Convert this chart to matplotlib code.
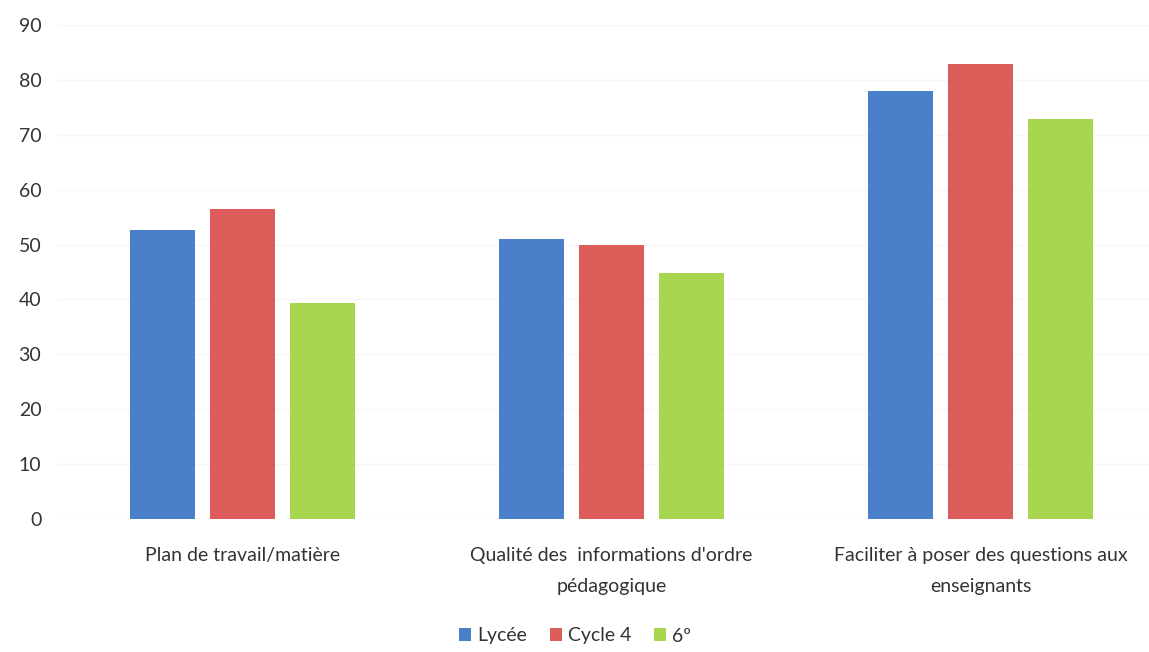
import numpy as np
import matplotlib.pyplot as plt

# donnees
categories = ["Plan de travail/matière",
              "Qualité des  informations d'ordre\npédagogique",
              "Faciliter à poser des questions aux\nenseignants"]
series = ["Lycée", "Cycle 4", "6º"]
lycee = [52.6, 51.0, 78.0]
cycle4 = [56.5, 50.0, 82.9]
sixieme = [39.3, 44.9, 72.8]
yticks = [0, 10, 20, 30, 40, 50, 60, 70, 80, 90]

couleurs = ["#4a7fc9", "#dc5c5a", "#a9d651"]

plt.rcParams['font.family'] = ['Lato', 'DejaVu Sans']

fig = plt.figure(figsize=(11.49, 6.52), dpi=100)
ax = fig.add_axes([58 / 1149, 133 / 652, 1107 / 1149, 494 / 652])

x = np.arange(len(categories))
largeur = 0.176
pas = 0.217
for i, (nom, vals) in enumerate(zip(series, [lycee, cycle4, sixieme])):
    ax.bar(x + (i - 1) * pas, vals, largeur, color=couleurs[i], label=nom, zorder=3)

ax.set_xlim(-0.5, 2.5)
ax.set_ylim(0, 90)
ax.set_yticks(yticks)
ax.set_xticks(x)
ax.set_xticklabels(categories, fontsize=14, color="#333333", linespacing=2.0)
ax.tick_params(axis='y', labelsize=14, labelcolor="#333333", length=0, pad=12)
ax.tick_params(axis='x', length=0, pad=20)
ax.grid(axis='y', color="#f6f6f6", linewidth=1, zorder=0)
for s in ax.spines.values():
    s.set_visible(False)

fig.legend(loc='center', bbox_to_anchor=(575 / 1149, 1 - 636 / 652), ncol=3,
           frameon=False, fontsize=14, handlelength=0.6, handleheight=0.6,
           handletextpad=0.3, columnspacing=1.2, labelcolor="#333333")

fig.savefig("out.png", dpi=100, facecolor="white")
